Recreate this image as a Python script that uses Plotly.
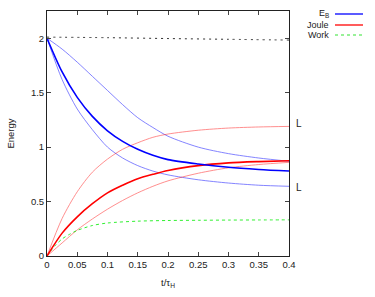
import plotly.graph_objects as go

t = [0, 0.025, 0.05, 0.075, 0.1, 0.125, 0.15, 0.175, 0.2, 0.25, 0.3, 0.35, 0.4]

eb_main = [2.0, 1.69, 1.457, 1.282, 1.15, 1.053, 0.98, 0.925, 0.885, 0.845, 0.815, 0.795, 0.78]
eb_upper = [2.0, 1.90, 1.78, 1.65, 1.52, 1.39, 1.27, 1.18, 1.10, 1.00, 0.94, 0.90, 0.87]
eb_lower = [2.0, 1.62, 1.35, 1.16, 1.0, 0.90, 0.83, 0.78, 0.745, 0.70, 0.67, 0.65, 0.64]

joule_main = [0.0, 0.21, 0.36, 0.48, 0.58, 0.65, 0.71, 0.75, 0.785, 0.83, 0.855, 0.867, 0.875]
joule_upper = [0.0, 0.345, 0.59, 0.77, 0.89, 0.98, 1.04, 1.09, 1.12, 1.155, 1.175, 1.185, 1.19]
joule_lower = [0.0, 0.12, 0.24, 0.34, 0.43, 0.51, 0.58, 0.64, 0.69, 0.76, 0.81, 0.84, 0.86]

t_work = [0, 0.0125, 0.025, 0.0375, 0.05, 0.075, 0.1, 0.15, 0.2, 0.25, 0.3, 0.35, 0.4]
work = [0.0, 0.09, 0.157, 0.20, 0.235, 0.28, 0.303, 0.32, 0.326, 0.328, 0.33, 0.331, 0.332]

t_total = [0, 0.1, 0.2, 0.3, 0.4]
total = [2.01, 2.005, 1.997, 1.99, 1.983]

x_ticks = [0, 0.05, 0.1, 0.15, 0.2, 0.25, 0.3, 0.35, 0.4]
x_ticklabels = ["0", "0.05", "0.1", "0.15", "0.2", "0.25", "0.3", "0.35", "0.4"]
y_ticks = [0, 0.5, 1, 1.5, 2]
y_ticklabels = ["0", "0.5", "1", "1.5", "2"]

legend_names = ["E<sub>B</sub>", "Joule", "Work"]
legend_colors = ["#0000ff", "#ff0000", "#00dd00"]

FONT = "Liberation Sans, Arial, sans-serif"
W, H = 375, 297
ML, MR, MT, MB = 47, 86, 11, 41
PW, PH = W - ML - MR, H - MT - MB

def px2paper(px, py):
    return (px - ML) / PW, (H - MB - py) / PH

fig = go.Figure()

def add(x, y, color, width, opacity=1.0, dash="solid"):
    fig.add_trace(go.Scatter(x=x, y=y, mode="lines", showlegend=False, opacity=opacity,
                             line=dict(color=color, width=width, dash=dash, shape="spline", smoothing=0.8),
                             hoverinfo="skip"))

add(t_total, total, "#000000", 1.0, 0.8, "2px,4px")
add(t, eb_upper, "#0000ff", 0.8, 0.6)
add(t, eb_lower, "#0000ff", 0.8, 0.6)
add(t, joule_upper, "#ff0000", 0.8, 0.55)
add(t, joule_lower, "#ff0000", 0.8, 0.55)
add(t_work, work, "#00ee00", 1.0, 0.8, "3px,3px")
add(t, joule_main, "#ff0000", 1.6, 1.0)
add(t, eb_main, "#0000ff", 1.6, 1.0)

# L labels at curve ends
fig.add_annotation(x=0.4, y=joule_upper[-1], xref="x", yref="y", text="L", showarrow=False,
                   xanchor="left", xshift=5, yshift=3, font=dict(family=FONT, size=10, color="#222"))
fig.add_annotation(x=0.4, y=eb_lower[-1], xref="x", yref="y", text="L", showarrow=False,
                   xanchor="left", xshift=5, yshift=-1, font=dict(family=FONT, size=10, color="#222"))

# Manual gnuplot-style legend (text left of sample)
rows_y = [14, 25, 35]
text_y = [13.5, 25, 35]
for name, col, yy, ty, dash, wd in zip(legend_names, legend_colors, rows_y, text_y,
                                       ["solid", "solid", "3px,3px"], [1.6, 1.6, 1.0]):
    xt, yt = px2paper(330, ty)
    x0, yp = px2paper(335, yy)
    x1, _ = px2paper(363, yy)
    fig.add_annotation(x=xt, y=yt, xref="paper", yref="paper", text=name, showarrow=False,
                       xanchor="right", yanchor="middle", borderpad=0,
                       font=dict(family=FONT, size=9, color="#222"))
    fig.add_shape(type="line", xref="paper", yref="paper", x0=x0, x1=x1, y0=yp, y1=yp,
                  line=dict(color=col, width=wd, dash=dash), opacity=0.8)

axis_common = dict(showline=True, linecolor="#222", linewidth=1, mirror="ticks", ticks="inside",
                   ticklen=4, tickcolor="#444", showgrid=False, zeroline=False,
                   tickfont=dict(family=FONT, size=9.5, color="#222"))

fig.update_xaxes(range=[0, 0.4], tickvals=x_ticks, ticktext=x_ticklabels,
                 title=dict(text="t/τ<sub>H</sub>", font=dict(family=FONT, size=9.5, color="#222"), standoff=9),
                 **axis_common)
fig.update_yaxes(range=[0, 2.25], tickvals=y_ticks, ticktext=y_ticklabels,
                 title=dict(text="Energy", font=dict(family=FONT, size=9.5, color="#222"), standoff=14),
                 **axis_common)

fig.update_layout(width=W, height=H, margin=dict(l=ML, r=MR, t=MT, b=MB, pad=0),
                  paper_bgcolor="white", plot_bgcolor="white", showlegend=False)

fig.write_html("out.html", config={"displayModeBar": False},
               post_script="document.body.style.margin='0';")
